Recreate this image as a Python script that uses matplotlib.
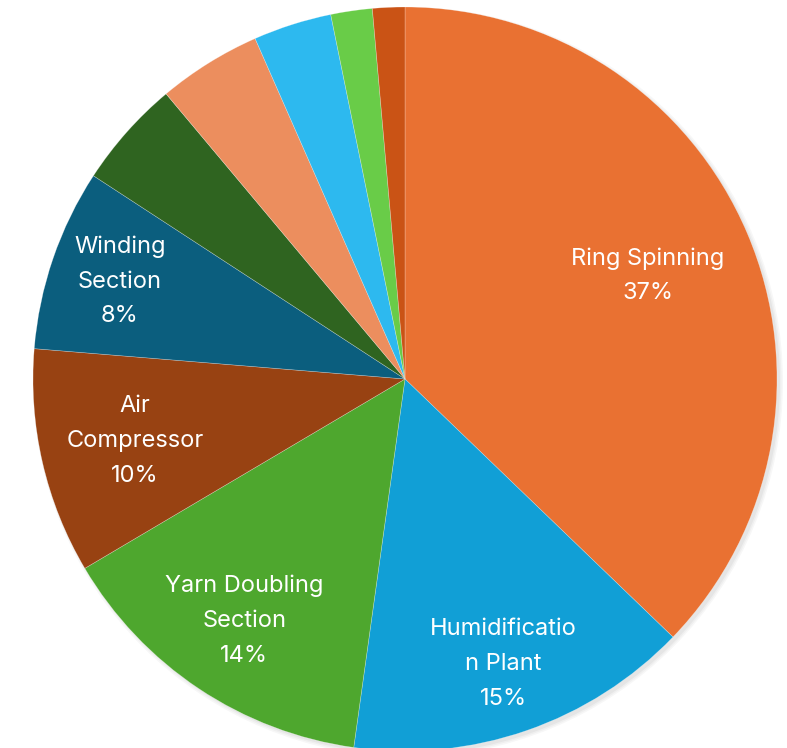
import numpy as np
import matplotlib.pyplot as plt

plt.rcParams['font.family'] = ['Inter', 'DejaVu Sans']

# share of energy use by section
sections = ['Ring Spinning', 'Humidificatio\nn Plant', 'Yarn Doubling\nSection',
            'Air\nCompressor', 'Winding\nSection', '', '', '', '', '']
shares = [37.2, 15.0, 14.3, 9.8, 7.9, 4.7, 4.5, 3.4, 1.8, 1.4]
pct_text = ['37%', '15%', '14%', '10%', '8%', '', '', '', '', '']
colors = ['#E97132', '#119FD6', '#4EA72E', '#984212', '#0B5E7E',
          '#2F6420', '#EC8E5E', '#2DB9EF', '#69CC48', '#CA5315']

W, H = 787, 748
fig = plt.figure(figsize=(W / 100, H / 100), dpi=100)
ax = fig.add_axes([0, 0, 1, 1])

cx, cy, r = 405, H - 379, 372

# soft drop shadow under the pie, offset down and right
for k, a in enumerate([0.03, 0.03, 0.04]):
    ax.add_patch(plt.Circle((cx + 3, cy - 3), r + 3 - 1.5 * k,
                            color='black', alpha=a, lw=0, zorder=0))

wedges, _ = ax.pie(shares, colors=colors, startangle=90, counterclock=False,
                   center=(cx, cy), radius=r, frame=True,
                   wedgeprops=dict(edgecolor=(1, 1, 1, 0.4), linewidth=0.4))
ax.set_xlim(0, W)
ax.set_ylim(0, H)
ax.axis('off')

# radial position of each label, as a fraction of the radius
label_pos = [0.71, 0.81, 0.78, 0.745, 0.81]
for w, name, pct, rf in zip(wedges, sections, pct_text, label_pos):
    mid = np.deg2rad((w.theta1 + w.theta2) / 2)
    x = cx + rf * r * np.cos(mid)
    y = cy + rf * r * np.sin(mid)
    ax.text(x, y, name + '\n' + pct, ha='center', va='center',
            color='white', fontsize=17, linespacing=1.75)

plt.savefig('out.png', dpi=100)
